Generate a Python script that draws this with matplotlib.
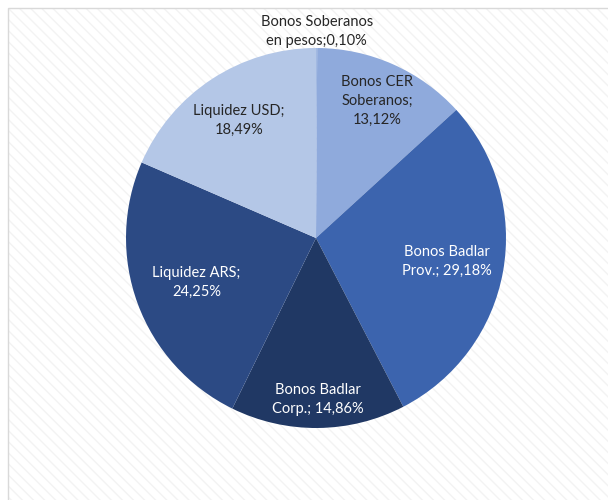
import numpy as np
import matplotlib.pyplot as plt
from matplotlib.patches import Rectangle

# Portfolio composition (%)
labels = ['Bonos Soberanos\nen pesos', 'Bonos CER\nSoberanos', 'Bonos Badlar\nProv.',
          'Bonos Badlar\nCorp.', 'Liquidez ARS', 'Liquidez USD']
values = [0.10, 13.12, 29.18, 14.86, 24.25, 18.49]
colors = ['#a2b9e2', '#8faadc', '#3c64ae', '#203864', '#2c4a84', '#b4c7e7']
label_text = ['Bonos Soberanos\nen pesos;0,10%', 'Bonos CER\nSoberanos;\n13,12%',
              'Bonos Badlar\nProv.; 29,18%', 'Bonos Badlar\nCorp.; 14,86%',
              'Liquidez ARS;\n24,25%', 'Liquidez USD;\n18,49%']
label_color = ['#262626', '#262626', 'white', 'white', 'white', '#262626']
label_dist = [1.085, 0.79, 0.70, 0.85, 0.67, 0.74]

plt.rcParams['font.family'] = ['Lato', 'DejaVu Sans']

fig = plt.figure(figsize=(6.08, 5.0), dpi=100)
ax = fig.add_axes([0, 0, 1, 1])

# chart area background with faint hatch and light frame
bg = Rectangle((7.5, -20), 700, 512.5, facecolor='white', edgecolor='#f3f3f3',
               hatch='\\\\\\', linewidth=0, zorder=0)
ax.add_patch(bg)
frame = Rectangle((7.5, -20), 700, 512.5, facecolor='none', edgecolor='#d9d9d9',
                  linewidth=1, zorder=1)
ax.add_patch(frame)

cx, cy, r = 316, 262, 190
wedges, _ = ax.pie(values, colors=colors, startangle=90, counterclock=False,
                   center=(cx, cy), radius=r, frame=True,
                   wedgeprops=dict(linewidth=0))
ax.set_xlim(0, 608)
ax.set_ylim(0, 500)
ax.set_aspect('equal')
ax.axis('off')

for w, txt, col, d in zip(wedges, label_text, label_color, label_dist):
    mid = np.deg2rad((w.theta1 + w.theta2) / 2)
    x = cx + d * r * np.cos(mid)
    y = cy + d * r * np.sin(mid)
    ax.text(x, y, txt, ha='center', va='center', color=col, fontsize=10.5,
            linespacing=1.45, zorder=5)

fig.savefig('out.png', dpi=100)
